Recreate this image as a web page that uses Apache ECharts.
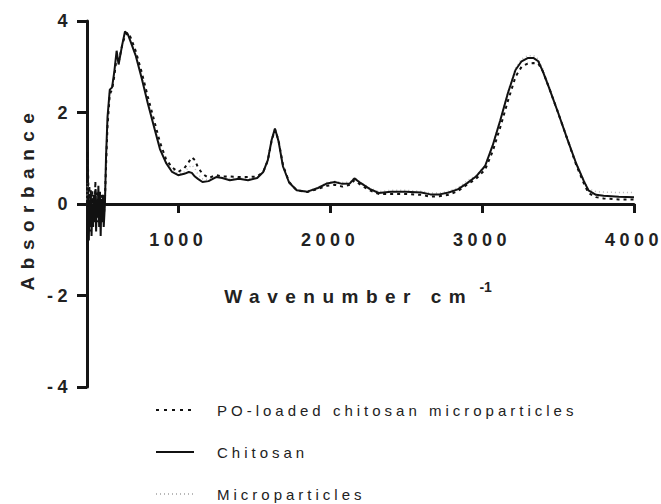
<!DOCTYPE html>
<html>
<head>
<meta charset="utf-8">
<script src="https://cdn.jsdelivr.net/npm/echarts@6/dist/echarts.min.js"></script>
<style>
  html, body { margin: 0; padding: 0; background: #fff; }
  #chart { width: 661px; height: 504px; }
  #chart svg text[style*="18px"] { letter-spacing: 4.5px; }
  #chart svg text[style*="19px"] { letter-spacing: 7.5px; }
  #chart svg text[style*="15px"] { letter-spacing: 4px; }
</style>
</head>
<body>
<div id="chart"></div>
<script>
// Wavenumber (cm-1)
var wavenumber = [400,404,408,412,416,420,425,430,435,440,
 445,450,455,460,465,470,475,480,485,490,
 495,500,505,510,518,525,535,550,565,580,
 595,608,630,650,670,690,720,760,800,840,
 880,920,960,1000,1040,1070,1090,1110,1130,1160,
 1200,1250,1290,1340,1400,1460,1520,1560,1590,1615,
 1637,1660,1690,1730,1780,1850,1920,1980,2030,2080,
 2130,2160,2200,2260,2320,2400,2500,2600,2660,2720,
 2780,2840,2900,2960,3020,3070,3120,3170,3220,3260,
 3300,3340,3370,3400,3440,3500,3560,3620,3670,3700,
 3750,3800,3900,4000];

var chitosan = [-0.6,-1.0,0.2,-0.8,0.1,-0.5,0.3,-0.7,0.0,-0.5,
 0.2,-0.4,0.3,-0.6,0.1,-0.3,0.4,-0.5,0.2,-0.7,
 0.1,-0.4,0.2,-0.5,0.0,1.0,1.9,2.5,2.55,2.9,
 3.35,3.05,3.45,3.77,3.7,3.52,3.25,2.75,2.2,1.7,
 1.2,0.9,0.7,0.63,0.66,0.7,0.68,0.6,0.55,0.48,
 0.5,0.59,0.57,0.52,0.55,0.52,0.57,0.7,0.96,1.4,
 1.65,1.38,0.82,0.47,0.3,0.27,0.35,0.45,0.48,0.44,
 0.45,0.56,0.46,0.33,0.24,0.27,0.27,0.25,0.21,0.21,
 0.25,0.32,0.45,0.6,0.83,1.28,1.83,2.42,2.93,3.12,
 3.19,3.19,3.12,2.9,2.55,2.0,1.43,0.88,0.5,0.3,
 0.2,0.18,0.16,0.15];

var poLoaded = [0.3,1.15,0.6,-0.3,0.4,-0.6,0.2,-0.4,0.3,-0.5,
 0.1,-0.3,0.5,-0.2,0.3,-0.4,0.2,-0.1,0.3,-0.3,
 0.2,-0.2,0.1,-0.3,0.1,0.8,1.7,2.4,2.5,2.8,
 3.2,3.1,3.45,3.68,3.75,3.62,3.35,2.88,2.35,1.85,
 1.35,0.98,0.8,0.7,0.78,0.92,1.02,0.96,0.8,0.66,
 0.57,0.63,0.6,0.6,0.59,0.59,0.6,0.7,0.95,1.38,
 1.63,1.4,0.85,0.48,0.3,0.26,0.33,0.4,0.42,0.38,
 0.42,0.52,0.42,0.3,0.22,0.22,0.22,0.2,0.16,0.17,
 0.2,0.28,0.42,0.55,0.75,1.15,1.68,2.25,2.78,3.0,
 3.07,3.08,3.07,2.9,2.55,2.0,1.43,0.85,0.45,0.24,
 0.15,0.12,0.1,0.1];

var microparticles = [0.1,0.5,0.3,-0.4,0.2,-0.3,0.1,-0.5,0.2,-0.3,
 0.0,-0.2,0.3,-0.4,0.2,-0.1,0.3,-0.3,0.1,-0.4,
 0.0,-0.2,0.1,-0.3,0.05,0.9,1.8,2.5,2.5,2.9,
 3.3,3.05,3.45,3.75,3.72,3.55,3.28,2.8,2.25,1.75,
 1.25,0.92,0.75,0.66,0.7,0.8,0.85,0.78,0.65,0.55,
 0.53,0.6,0.58,0.56,0.57,0.55,0.58,0.7,0.95,1.4,
 1.65,1.4,0.83,0.47,0.3,0.28,0.36,0.47,0.5,0.47,
 0.48,0.58,0.48,0.35,0.27,0.3,0.3,0.28,0.24,0.24,
 0.28,0.35,0.5,0.62,0.85,1.3,1.85,2.45,2.97,3.17,
 3.24,3.24,3.17,2.95,2.58,2.02,1.45,0.9,0.52,0.33,
 0.27,0.26,0.25,0.25];

var xTickValues = [1000, 2000, 3000, 4000];
var seriesNames = ['PO-loaded chitosan microparticles', 'Chitosan', 'Microparticles'];

function pairs(ys) {
  return wavenumber.map(function (x, i) { return [x, ys[i]]; });
}

var FONT = '"Liberation Sans", Arial, sans-serif';
var TXT = '#222222';
var AX = '#151515';
var GRID_TOP = 21, GRID_BOTTOM = 117, PLOT_H = 504 - GRID_TOP - GRID_BOTTOM;

var chart = echarts.init(document.getElementById('chart'), null, { renderer: 'svg' });
chart.setOption({
  animation: false,
  backgroundColor: '#ffffff',
  grid: { left: 87, right: 27, top: GRID_TOP, bottom: GRID_BOTTOM },
  legend: {
    orient: 'vertical',
    left: 155,
    top: 402,
    padding: 0,
    itemWidth: 38,
    itemHeight: 16,
    itemGap: 26,
    data: [
      { name: seriesNames[0], lineStyle: { type: [3, 5], width: 1.8 } },
      { name: seriesNames[1] },
      { name: seriesNames[2] }
    ],
    itemStyle: { opacity: 0, borderWidth: 0 },
    textStyle: { fontFamily: FONT, fontSize: 15, lineHeight: 16, color: TXT, padding: [0, 0, 0, 18] }
  },
  xAxis: {
    type: 'value',
    min: 400,
    max: 4000,
    // put the x axis (line, ticks, labels, name) at y = 0, i.e. mid-height of the plot
    offset: -PLOT_H / 2,
    name: '{t|Wavenumber cm}{s|-1}',
    nameLocation: 'middle',
    nameGap: 76,
    nameTextStyle: {
      rich: {
        t: { fontFamily: FONT, fontSize: 19, fontWeight: 'bold', color: TXT, verticalAlign: 'bottom', padding: [0, 0, 0, 44] },
        s: { fontFamily: FONT, fontSize: 14, fontWeight: 'bold', color: TXT, verticalAlign: 'top', padding: [0, 0, 12, 55] }
      }
    },
    axisLine: { onZero: false, lineStyle: { color: AX, width: 3 } },
    axisTick: { customValues: xTickValues, length: 9, lineStyle: { color: AX, width: 3 } },
    axisLabel: {
      customValues: xTickValues, margin: 27, fontFamily: FONT, fontSize: 18, fontWeight: 'bold', color: TXT,
      formatter: function (v) { return String(v); }
    },
    splitLine: { show: false }
  },
  yAxis: {
    type: 'value',
    min: -4,
    max: 4,
    interval: 2,
    name: 'Absorbance',
    nameLocation: 'middle',
    nameGap: 50,
    nameTextStyle: { fontFamily: FONT, fontSize: 19, fontWeight: 'bold', color: TXT, padding: [0, 0, 0, 12] },
    axisLine: { show: true, onZero: false, lineStyle: { color: AX, width: 3 } },
    axisTick: { show: true, length: 10, lineStyle: { color: AX, width: 3 } },
    axisLabel: { margin: 15, fontFamily: FONT, fontSize: 18, fontWeight: 'bold', color: TXT },
    splitLine: { show: false }
  },
  series: [
    {
      name: seriesNames[2], type: 'line', data: pairs(microparticles), symbol: 'none',
      lineStyle: { color: '#b8b8b8', width: 1.5, type: [1, 3] }, itemStyle: { color: '#b8b8b8' }, z: 1
    },
    {
      name: seriesNames[0], type: 'line', data: pairs(poLoaded), symbol: 'none',
      lineStyle: { color: '#111111', width: 2, type: [3, 4] }, itemStyle: { color: '#111111' }, z: 2
    },
    {
      name: seriesNames[1], type: 'line', data: pairs(chitosan), symbol: 'none',
      lineStyle: { color: '#111111', width: 2, type: 'solid' }, itemStyle: { color: '#111111' }, z: 3
    }
  ]
});
</script>
</body>
</html>
